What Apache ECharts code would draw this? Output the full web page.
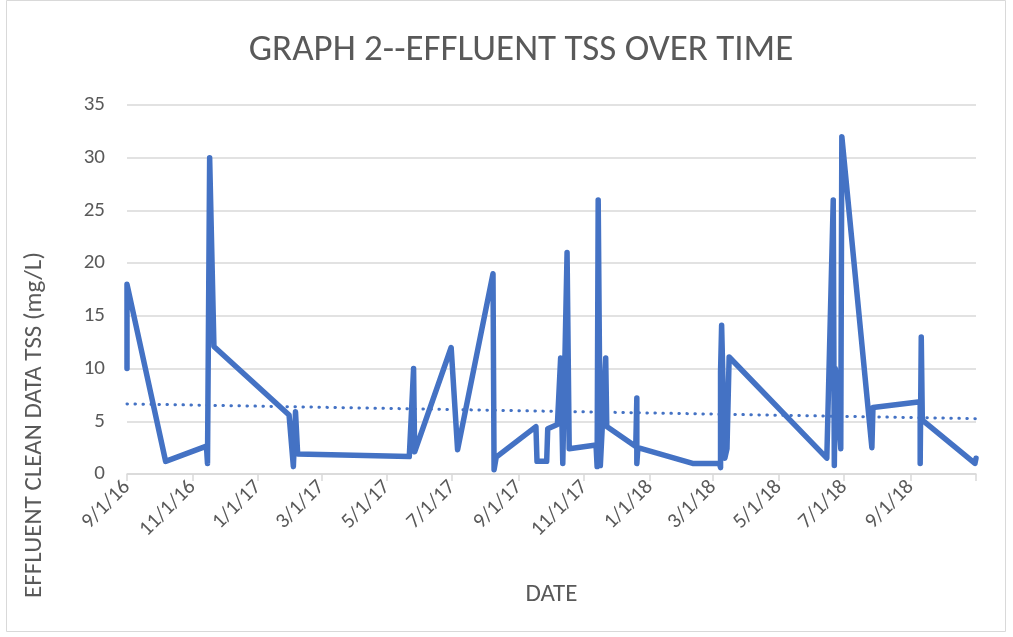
<!DOCTYPE html>
<html>
<head>
<meta charset="utf-8">
<script src="https://cdn.jsdelivr.net/npm/echarts@6/dist/echarts.min.js"></script>
<style>
  html, body { margin: 0; padding: 0; background: #fff; }
  #tssChart { width: 1013px; height: 637px; }
</style>
</head>
<body>
<div id="tssChart"></div>
<script>
// tick dates of the x axis (last tick has no label)
var tickDates = ['2016-09-01', '2016-11-01', '2017-01-01', '2017-03-01', '2017-05-01', '2017-07-01', '2017-09-01',
  '2017-11-01', '2018-01-01', '2018-03-01', '2018-05-01', '2018-07-01', '2018-09-01', '2018-11-01'];
var labelDates = tickDates.slice(0, 13);
var yTicks = [0, 5, 10, 15, 20, 25, 30, 35];

// sample dates and effluent TSS (mg/L)
var sampleDates = [
  '2016-09-01', '2016-09-01', '2016-10-07', '2016-11-14', '2016-11-15', '2016-11-17', '2016-11-21',
  '2017-01-30', '2017-02-03', '2017-02-05', '2017-02-07',
  '2017-05-22', '2017-05-26', '2017-05-27', '2017-06-30', '2017-07-06', '2017-08-08', '2017-08-09', '2017-08-11',
  '2017-09-17', '2017-09-18', '2017-09-27', '2017-09-28', '2017-10-07', '2017-10-10', '2017-10-12', '2017-10-16', '2017-10-18',
  '2017-11-12', '2017-11-13', '2017-11-14', '2017-11-16', '2017-11-21', '2017-11-22',
  '2017-12-19', '2017-12-20', '2017-12-20', '2017-12-21',
  '2018-02-10', '2018-03-07', '2018-03-08', '2018-03-08', '2018-03-09', '2018-03-12', '2018-03-14', '2018-03-16',
  '2018-06-15', '2018-06-21', '2018-06-22', '2018-06-23', '2018-06-28', '2018-06-29',
  '2018-07-27', '2018-07-28', '2018-09-10', '2018-09-10', '2018-09-11', '2018-09-12', '2018-10-31', '2018-11-01'
];
var tssValues = [
  10, 18, 1.2, 2.65, 1.0, 30, 12.1,
  5.6, 0.7, 5.9, 1.9,
  1.65, 10, 2.1, 12, 2.3, 19, 0.4, 1.6,
  4.5, 1.2, 1.2, 4.3, 4.7, 11, 1.0, 21, 2.4,
  2.75, 0.7, 26, 0.8, 11, 4.5,
  2.6, 7.2, 1.0, 2.5,
  1.0, 1.0, 0.6, 9.7, 14.1, 1.5, 2.4, 11.1,
  1.5, 26, 0.8, 10, 2.4, 32,
  2.5, 6.3, 6.85, 1.0, 13, 5.1, 1.0, 1.5
];

// linear trendline end points
var trendDates = ['2016-09-01', '2018-11-01'];
var trendValues = [6.65, 5.25];

var FONT = 'Carlito, Lato, sans-serif';
var TEXT = '#595959';
var GRID = '#d9d9d9';
var BLUE = '#4472C4';

function toTime(s) {
  var p = s.split('-');
  return new Date(+p[0], +p[1] - 1, +p[2]).getTime();
}

function pairs(ds, vs) {
  var out = [];
  for (var i = 0; i < ds.length; i++) {
    out.push([toTime(ds[i]), vs[i]]);
  }
  return out;
}

var chart = echarts.init(document.getElementById('tssChart'), null, { renderer: 'canvas' });

var option = {
  animation: false,
  backgroundColor: '#fff',
  title: {
    text: 'GRAPH 2--EFFLUENT TSS OVER TIME',
    left: 516,
    top: 27,
    textAlign: 'center',
    textStyle: { fontFamily: FONT, fontSize: 37, fontWeight: 'normal', color: TEXT }
  },
  grid: { left: 127, right: 37, top: 105, bottom: 163 },
  xAxis: {
    // dates as timestamps on a value axis so ticks can sit on month starts
    type: 'value',
    min: toTime(tickDates[0]),
    max: toTime(tickDates[tickDates.length - 1]),
    name: 'DATE',
    nameLocation: 'middle',
    nameGap: 108,
    nameTextStyle: { fontFamily: FONT, fontSize: 25, color: TEXT },
    axisLine: { lineStyle: { color: GRID, width: 1.5 } },
    axisTick: {
      show: true,
      length: 7,
      customValues: tickDates.map(toTime),
      lineStyle: { color: GRID, width: 1.5 }
    },
    splitLine: { show: false },
    axisLabel: {
      customValues: labelDates.map(toTime),
      rotate: 45,
      margin: 10,
      fontFamily: FONT,
      fontSize: 21,
      color: TEXT,
      formatter: function (v) {
        var d = new Date(v);
        return (d.getMonth() + 1) + '/' + d.getDate() + '/' + String(d.getFullYear()).slice(2);
      }
    }
  },
  yAxis: {
    type: 'value',
    min: yTicks[0],
    max: yTicks[yTicks.length - 1],
    interval: 5,
    axisLine: { show: false },
    axisTick: { show: false },
    splitLine: { lineStyle: { color: GRID, width: 1.5 } },
    axisLabel: { margin: 22, fontFamily: FONT, fontSize: 21, color: TEXT }
  },
  graphic: [
    {
      type: 'text',
      x: 35,
      y: 425,
      rotation: Math.PI / 2,
      style: {
        text: 'EFFLUENT CLEAN DATA TSS (mg/L)',
        fontFamily: FONT,
        fontSize: 25,
        fill: TEXT,
        align: 'center',
        verticalAlign: 'middle'
      }
    },
    {
      type: 'rect',
      shape: { x: 6.5, y: 0.5, width: 999, height: 631 },
      style: { fill: 'none', stroke: GRID, lineWidth: 1 },
      silent: true
    }
  ],
  series: [
    {
      name: 'TSS',
      type: 'line',
      data: pairs(sampleDates, tssValues),
      showSymbol: false,
      lineStyle: { color: BLUE, width: 5.5, join: 'round', cap: 'round' },
      z: 3
    },
    {
      name: 'Linear trend',
      type: 'line',
      data: pairs(trendDates, trendValues),
      showSymbol: false,
      lineStyle: { color: BLUE, width: 3, type: [0.5, 7.5], cap: 'round' },
      z: 2
    }
  ]
};

chart.setOption(option);
</script>
</body>
</html>
